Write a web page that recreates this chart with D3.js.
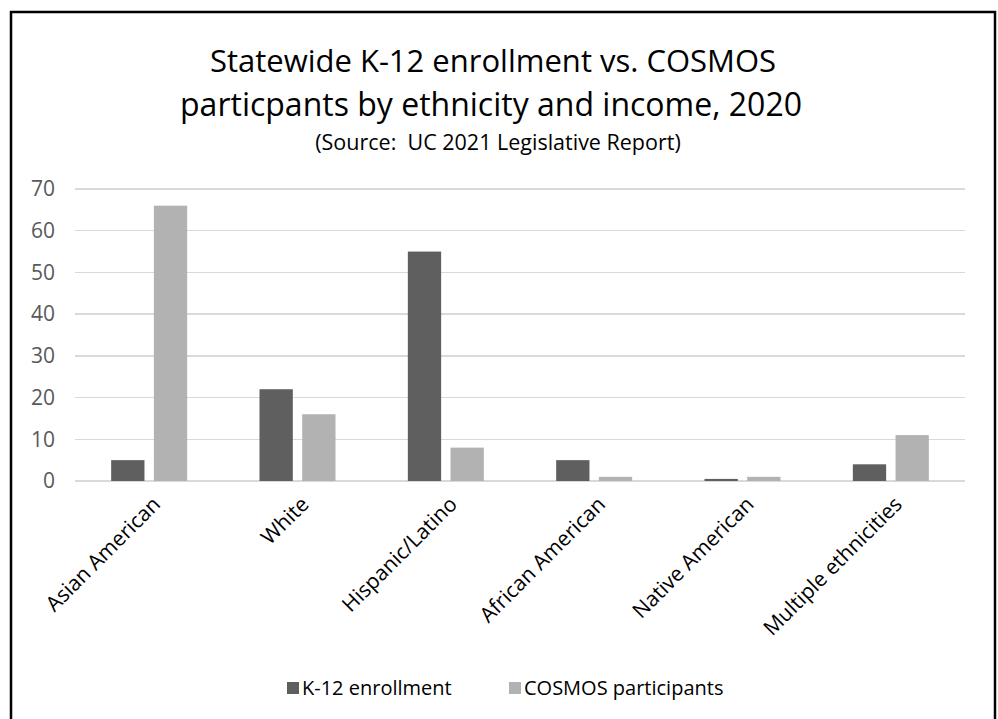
<!DOCTYPE html>
<html lang="en">
	<head>
		<meta charset="utf-8">
		<title>cosmos</title>
		<script type="text/javascript" src="https://d3js.org/d3.v7.min.js"></script>
		<style type="text/css">
			body {
			  margin: 0;
			  background: #fff;
			  font-family: "Open Sans", sans-serif;
			}
			.grid line {
			  stroke: #d9d9d9;
			  stroke-width: 1.5;
			  shape-rendering: crispEdges;
			}
			.tick-label {
			  fill: #595959;
			  font-size: 21px;
			}
		</style>
	</head>
	<body>
		<script type="text/javascript">

			var w = 998;
			var h = 719;

			var categories = ["Asian American", "White", "Hispanic/Latino", "African American", "Native American", "Multiple ethnicities"];
			var series = ["K-12 enrollment", "COSMOS participants"];
			var k12 = [5, 22, 55, 5, 0.5, 4];
			var cosmos = [66, 16, 8, 1, 1, 11];
			var yTicks = [0, 10, 20, 30, 40, 50, 60, 70];
			var colors = ["#5f5f5f", "#b2b2b2"];

			var rows = categories.map(function(c, i) {
				return {cat: c, vals: [k12[i], cosmos[i]]};
			});

			var svg = d3.select("body").append("svg")
				.attr("width", w)
				.attr("height", h);

			// outer frame (bottom edge falls outside the picture)
			svg.append("rect")
				.attr("x", 11)
				.attr("y", 12)
				.attr("width", 984)
				.attr("height", 740)
				.attr("fill", "none")
				.attr("stroke", "#000")
				.attr("stroke-width", 2.5);

			// title
			svg.append("text")
				.attr("x", 493).attr("y", 72)
				.attr("text-anchor", "middle")
				.style("font-size", "31px")
				.attr("fill", "#000")
				.text("Statewide K-12 enrollment vs. COSMOS");
			svg.append("text")
				.attr("x", 491).attr("y", 116)
				.attr("text-anchor", "middle")
				.style("font-size", "32px")
				.attr("fill", "#000")
				.text("particpants by ethnicity and income, 2020");
			svg.append("text")
				.attr("x", 498).attr("y", 150)
				.attr("text-anchor", "middle")
				.style("font-size", "21.5px")
				.style("white-space", "pre")
				.attr("fill", "#000")
				.text("(Source:  UC 2021 Legislative Report)");

			var x0 = d3.scaleBand()
				.domain(categories)
				.range([75, 965])
				.padding(0);

			var x1 = d3.scaleBand()
				.domain(series)
				.range([x0.bandwidth() / 2 - 38, x0.bandwidth() / 2 + 38])
				.paddingInner(0.22);

			var y = d3.scaleLinear()
				.domain([0, 70])
				.range([481, 189]);

			// gridlines
			svg.append("g")
				.attr("class", "grid")
				.selectAll("line")
				.data(yTicks)
				.enter()
				.append("line")
				.attr("x1", 75)
				.attr("x2", 965)
				.attr("y1", function(d) { return y(d); })
				.attr("y2", function(d) { return y(d); });

			svg.append("g")
				.selectAll("text")
				.data(yTicks)
				.enter()
				.append("text")
				.attr("class", "tick-label")
				.attr("x", 55)
				.attr("y", function(d) { return y(d); })
				.attr("dy", "0.35em")
				.attr("text-anchor", "end")
				.text(function(d) { return d; });

			// bars
			var groups = svg.selectAll(".group")
				.data(rows)
				.enter()
				.append("g")
				.attr("class", "group")
				.attr("transform", function(d) { return "translate(" + x0(d.cat) + ",0)"; });

			groups.selectAll("rect")
				.data(function(d) { return d.vals.map(function(v, i) { return {s: series[i], v: v, i: i}; }); })
				.enter()
				.append("rect")
				.attr("x", function(d) { return x1(d.s); })
				.attr("y", function(d) { return y(d.v); })
				.attr("width", x1.bandwidth())
				.attr("height", function(d) { return y(0) - y(d.v); })
				.attr("fill", function(d) { return colors[d.i]; });

			// category labels
			svg.append("g")
				.selectAll("text")
				.data(categories)
				.enter()
				.append("text")
				.attr("transform", function(d) {
					return "translate(" + (x0(d) + x0.bandwidth() / 2 + 2) + ",495) rotate(-45)";
				})
				.attr("dy", "0.71em")
				.attr("text-anchor", "end")
				.style("font-size", "21px")
				.attr("fill", "#000")
				.text(function(d) { return d; });

			// legend
			var legendX = [287, 509];
			var legend = svg.selectAll(".legend")
				.data(series)
				.enter()
				.append("g")
				.attr("class", "legend")
				.attr("transform", function(d, i) { return "translate(" + legendX[i] + ",682)"; });

			legend.append("rect")
				.attr("width", 12)
				.attr("height", 12)
				.attr("fill", function(d, i) { return colors[i]; });

			legend.append("text")
				.attr("x", 15)
				.attr("y", 6)
				.attr("dy", "0.35em")
				.style("font-size", "20px")
				.attr("fill", "#000")
				.text(function(d) { return d; });

		</script>
	</body>
</html>
